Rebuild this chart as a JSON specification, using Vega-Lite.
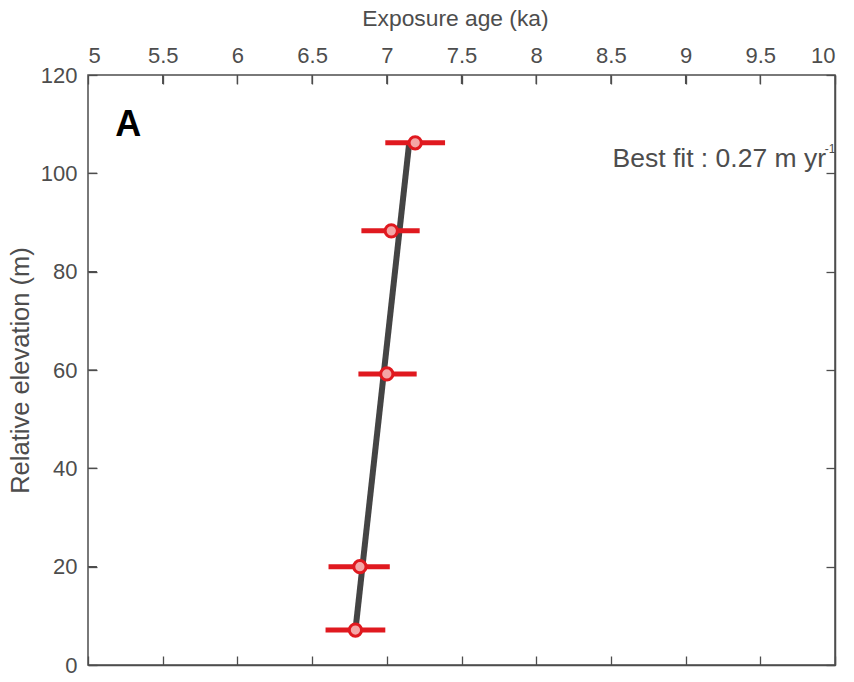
{
  "$schema": "https://vega.github.io/schema/vega-lite/v6.json",
  "width": 747,
  "height": 590,
  "autosize": "none",
  "padding": {"left": 88, "top": 75, "right": 19, "bottom": 17},
  "background": "white",
  "config": {
    "font": "Liberation Sans",
    "view": {"stroke": "#4d4d4d", "strokeWidth": 1.5},
    "axis": {
      "grid": false,
      "domainColor": "#4d4d4d",
      "domainWidth": 1.5,
      "ticks": true,
      "tickColor": "#4d4d4d",
      "tickWidth": 1.3,
      "labelColor": "#4d4d4d",
      "titleColor": "#4d4d4d",
      "labelFont": "Liberation Sans",
      "titleFont": "Liberation Sans",
      "labelFontSize": 22,
      "titleFontSize": 22.8,
      "titleFontWeight": "normal"
    }
  },
  "datasets": {
    "pts": [
      {"age": 7.19, "lo": 6.99, "hi": 7.39, "elev": 106.2},
      {"age": 7.03, "lo": 6.83, "hi": 7.22, "elev": 88.3},
      {"age": 7.00, "lo": 6.81, "hi": 7.20, "elev": 59.2},
      {"age": 6.82, "lo": 6.61, "hi": 7.02, "elev": 20.0},
      {"age": 6.79, "lo": 6.59, "hi": 6.99, "elev": 7.1}
    ],
    "fit": [
      {"age": 7.15, "elev": 106.2},
      {"age": 6.79, "elev": 7.1}
    ],
    "xticks": [
      {"t": 5.5}, {"t": 6}, {"t": 6.5}, {"t": 7}, {"t": 7.5},
      {"t": 8}, {"t": 8.5}, {"t": 9}, {"t": 9.5}
    ],
    "yticks": [
      {"t": 20}, {"t": 40}, {"t": 60}, {"t": 80}, {"t": 100}
    ],
    "labels": [
      {"age": 5.27, "elev": 109.9, "txt": "A"}
    ],
    "note": [
      {"age": 9.94, "elev": 103.0, "txt": "Best fit : 0.27 m yr"}
    ],
    "sup": [
      {"age": 9.932, "elev": 104.9, "txt": "-1"}
    ]
  },
  "layer": [
    {
      "data": {"name": "fit"},
      "mark": {"type": "line", "color": "#444444", "strokeWidth": 6, "strokeCap": "butt"},
      "encoding": {
        "x": {
          "field": "age", "type": "quantitative",
          "scale": {"domain": [5, 10], "nice": false, "zero": false},
          "axis": {
            "orient": "top",
            "title": "Exposure age (ka)",
            "titleX": 367,
            "titleAlign": "center",
            "values": [5, 5.5, 6, 6.5, 7, 7.5, 8, 8.5, 9, 9.5, 10],
            "format": "~g",
            "domain": false,
            "ticks": true,
            "tickSize": 9,
            "offset": -9,
            "labelPadding": 8,
            "titlePadding": 14
          }
        },
        "y": {
          "field": "elev", "type": "quantitative",
          "scale": {"domain": [0, 120], "nice": false},
          "axis": {
            "orient": "left",
            "title": "Relative elevation (m)",
            "titleFontSize": 25.5,
            "values": [0, 20, 40, 60, 80, 100, 120],
            "domain": false,
            "ticks": true,
            "tickSize": 9,
            "offset": -9,
            "labelPadding": 11,
            "titlePadding": 7
          }
        }
      }
    },
    {
      "data": {"name": "xticks"},
      "mark": {"type": "rule", "color": "#4d4d4d", "strokeWidth": 1.3},
      "encoding": {
        "x": {"field": "t", "type": "quantitative", "axis": null},
        "y": {"datum": 120, "type": "quantitative", "axis": null},
        "y2": {"datum": 118.17}
      }
    },
    {
      "data": {"name": "yticks"},
      "mark": {"type": "rule", "color": "#4d4d4d", "strokeWidth": 1.3},
      "encoding": {
        "y": {"field": "t", "type": "quantitative", "axis": null},
        "x": {"datum": 5, "type": "quantitative", "axis": null},
        "x2": {"datum": 5.06}
      }
    },
    {
      "data": {"name": "pts"},
      "mark": {"type": "rule", "color": "#e0191f", "strokeWidth": 5},
      "encoding": {
        "x": {
          "field": "lo", "type": "quantitative",
          "axis": {
            "orient": "bottom",
            "title": null,
            "labels": false,
            "tickSize": -9,
            "values": [5, 5.5, 6, 6.5, 7, 7.5, 8, 8.5, 9, 9.5, 10]
          }
        },
        "x2": {"field": "hi"},
        "y": {
          "field": "elev", "type": "quantitative",
          "axis": {
            "orient": "right",
            "title": null,
            "labels": false,
            "tickSize": -9,
            "values": [0, 20, 40, 60, 80, 100, 120]
          }
        }
      }
    },
    {
      "data": {"name": "pts"},
      "mark": {"type": "point", "shape": "circle", "filled": false, "fill": "#f4a6a6", "fillOpacity": 1, "stroke": "#e0191f", "strokeWidth": 3, "size": 150, "opacity": 1},
      "encoding": {
        "x": {"field": "age", "type": "quantitative", "axis": null},
        "y": {"field": "elev", "type": "quantitative", "axis": null}
      }
    },
    {
      "data": {"name": "labels"},
      "mark": {"type": "text", "fontSize": 36, "fontWeight": "bold", "font": "Liberation Sans Narrow, Liberation Sans", "color": "#000000", "align": "center", "baseline": "middle"},
      "encoding": {
        "x": {"field": "age", "type": "quantitative", "axis": null},
        "y": {"field": "elev", "type": "quantitative", "axis": null},
        "text": {"field": "txt"}
      }
    },
    {
      "data": {"name": "note"},
      "mark": {"type": "text", "fontSize": 26.5, "font": "Liberation Sans", "color": "#4d4d4d", "align": "right", "baseline": "middle"},
      "encoding": {
        "x": {"field": "age", "type": "quantitative", "axis": null},
        "y": {"field": "elev", "type": "quantitative", "axis": null},
        "text": {"field": "txt"}
      }
    },
    {
      "data": {"name": "sup"},
      "mark": {"type": "text", "fontSize": 12, "font": "Liberation Sans", "color": "#4d4d4d", "align": "left", "baseline": "middle"},
      "encoding": {
        "x": {"field": "age", "type": "quantitative", "axis": null},
        "y": {"field": "elev", "type": "quantitative", "axis": null},
        "text": {"field": "txt"}
      }
    }
  ]
}
